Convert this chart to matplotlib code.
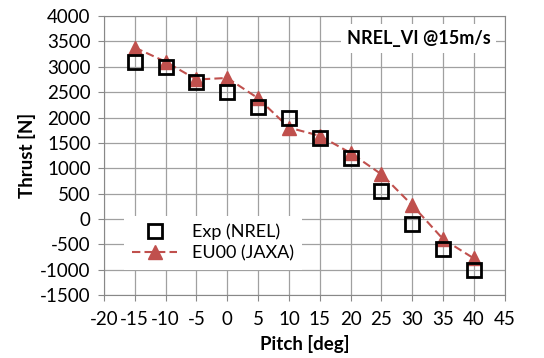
import matplotlib.pyplot as plt

# Data
pitch = [-15, -10, -5, 0, 5, 10, 15, 20, 25, 30, 35, 40]
thrust_exp = [3100, 3000, 2700, 2500, 2200, 2000, 1600, 1200, 550, -100, -600, -1000]
thrust_eu00 = [3380, 3100, 2750, 2780, 2380, 1800, 1640, 1300, 880, 270, -400, -780]

xticks = list(range(-20, 50, 5))
yticks = list(range(-1500, 4500, 500))

plt.rcParams['font.family'] = ['Lato', 'DejaVu Sans']
plt.rcParams['axes.unicode_minus'] = False

fig = plt.figure(figsize=(5.44, 3.58), dpi=100)
ax = fig.add_axes([0.191, 0.176, 0.737, 0.779])

red = '#C0504D'
ax.plot(pitch, thrust_eu00, color=red, linestyle='--', linewidth=1.5, dashes=(4, 2),
        marker='^', markersize=10, markerfacecolor=red, markeredgecolor=red,
        label='EU00 (JAXA)', zorder=3)
ax.plot(pitch, thrust_exp, linestyle='none', marker='s', markersize=10,
        markerfacecolor='none', markeredgecolor='black', markeredgewidth=2,
        label='Exp (NREL)', zorder=4)

ax.set_xlim(-20, 45)
ax.set_ylim(-1500, 4000)
ax.set_xticks(xticks)
ax.set_yticks(yticks)
ax.tick_params(labelsize=13.5, length=4.5, color='#888888', pad=5)
ax.tick_params(axis='x', pad=7)
ax.grid(True, color='#a0a0a0', linewidth=0.9)
ax.set_axisbelow(True)
for s in ax.spines.values():
    s.set_color('#888888')

ax.set_xlabel('Pitch [deg]', fontsize=13.5, fontweight='bold', labelpad=5)
ax.set_ylabel('Thrust [N]', fontsize=13.5, fontweight='bold', labelpad=3)

ax.text(0.965, 0.92, 'NREL_VI @15m/s', transform=ax.transAxes, ha='right', va='center',
        fontsize=13, fontweight='bold',
        bbox=dict(facecolor='white', edgecolor='none', pad=4))

handles, labels = ax.get_legend_handles_labels()
leg = ax.legend(handles[::-1], labels[::-1], loc='lower left', bbox_to_anchor=(0.05, 0.09),
                fontsize=13, frameon=True, fancybox=False, edgecolor='none',
                framealpha=1, handlelength=2.5, borderpad=0.45, borderaxespad=0,
                labelspacing=0.3)

fig.savefig('out.png', dpi=100)
